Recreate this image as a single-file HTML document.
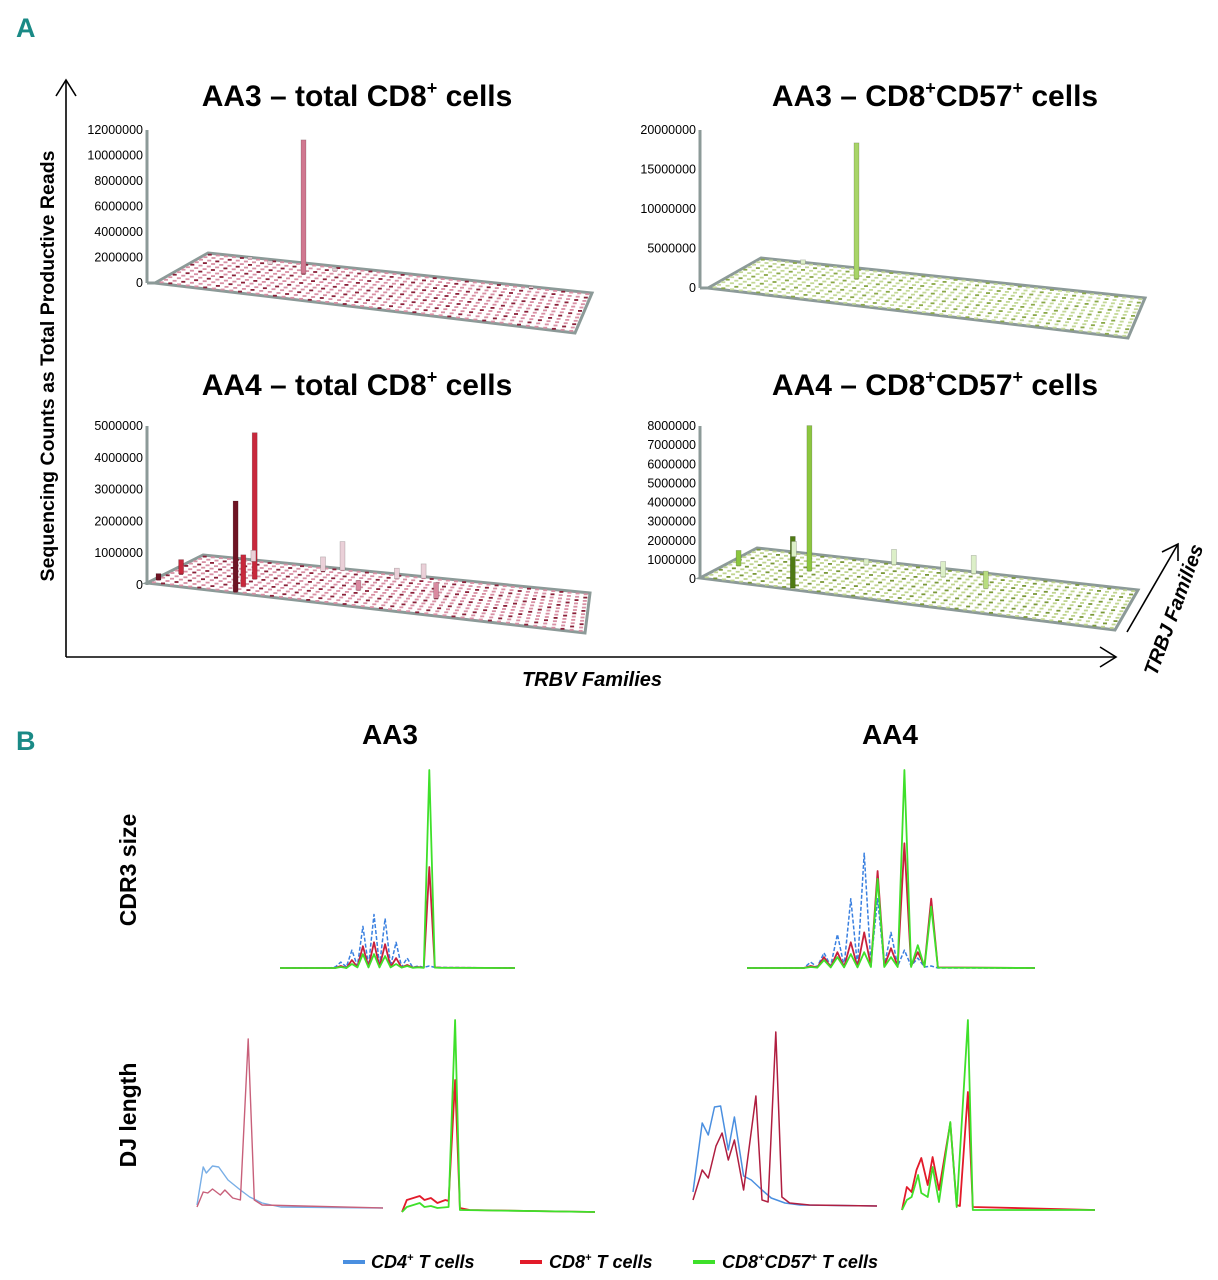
<!DOCTYPE html>
<html><head><meta charset="utf-8">
<style>
html,body{margin:0;padding:0;background:#fff;}
svg{display:block;font-family:"Liberation Sans",sans-serif;}
</style></head>
<body>
<svg id="fig" width="1218" height="1280" viewBox="0 0 1218 1280" xmlns="http://www.w3.org/2000/svg">
<text x="16" y="37" font-size="27" font-weight="bold" fill="#1a8a86" font-family="Liberation Sans Narrow, Liberation Sans, sans-serif">A</text>
<text x="16" y="750" font-size="27" font-weight="bold" fill="#1a8a86" font-family="Liberation Sans Narrow, Liberation Sans, sans-serif">B</text>

<g stroke="#000" stroke-width="1.6" fill="none">
<line x1="66" y1="80" x2="66" y2="657"/>
<polyline points="56,96 66,80 76,96"/>
<line x1="66" y1="657" x2="1116" y2="657"/>
<polyline points="1100,647 1116,657 1100,667"/>
<line x1="1127" y1="632" x2="1178" y2="544"/>
<polyline points="1162,552 1178,544 1178,561"/>
</g>
<text transform="translate(54,366) rotate(-90)" text-anchor="middle" font-size="19.5" font-weight="bold">Sequencing Counts as Total Productive Reads</text>
<text x="592" y="686" text-anchor="middle" font-size="20" font-weight="bold" font-style="italic">TRBV Families</text>
<text transform="translate(1180,612) rotate(-70)" text-anchor="middle" font-size="20" font-weight="bold" font-style="italic">TRBJ Families</text>

<text x="357" y="106" text-anchor="middle" font-size="30" font-weight="bold">AA3 – total CD8<tspan font-size="18" dy="-12">+</tspan><tspan dy="12"> cells</tspan></text>
<text x="935" y="106" text-anchor="middle" font-size="30" font-weight="bold">AA3 – CD8<tspan font-size="18" dy="-12">+</tspan><tspan dy="12">CD57</tspan><tspan font-size="18" dy="-12">+</tspan><tspan dy="12"> cells</tspan></text>
<text x="357" y="395" text-anchor="middle" font-size="30" font-weight="bold">AA4 – total CD8<tspan font-size="18" dy="-12">+</tspan><tspan dy="12"> cells</tspan></text>
<text x="935" y="395" text-anchor="middle" font-size="30" font-weight="bold">AA4 – CD8<tspan font-size="18" dy="-12">+</tspan><tspan dy="12">CD57</tspan><tspan font-size="18" dy="-12">+</tspan><tspan dy="12"> cells</tspan></text>

<g id="panels3d"></g>

<text x="390" y="744" text-anchor="middle" font-size="28" font-weight="bold">AA3</text>
<text x="890" y="744" text-anchor="middle" font-size="28" font-weight="bold">AA4</text>
<text transform="translate(136,870) rotate(-90)" text-anchor="middle" font-size="23" font-weight="bold">CDR3 size</text>
<text transform="translate(136,1115) rotate(-90)" text-anchor="middle" font-size="23" font-weight="bold">DJ length</text>

<g id="lines"></g>

<g font-size="18" font-weight="bold" font-style="italic">
<line x1="343" y1="1262" x2="365" y2="1262" stroke="#4a8fe0" stroke-width="4"/>
<text x="371" y="1268">CD4<tspan font-size="11" dy="-7">+</tspan><tspan dy="7"> T cells</tspan></text>
<line x1="520" y1="1262" x2="542" y2="1262" stroke="#e21b2a" stroke-width="4"/>
<text x="549" y="1268">CD8<tspan font-size="11" dy="-7">+</tspan><tspan dy="7"> T cells</tspan></text>
<line x1="693" y1="1262" x2="715" y2="1262" stroke="#3ee02a" stroke-width="4"/>
<text x="722" y="1268">CD8<tspan font-size="11" dy="-7">+</tspan><tspan dy="7">CD57</tspan><tspan font-size="11" dy="-7">+</tspan><tspan dy="7"> T cells</tspan></text>
</g>
</svg>
<script>
const NS='http://www.w3.org/2000/svg';
// ---------- Panel A data ----------
const ticksTL=[0,2000000,4000000,6000000,8000000,10000000,12000000];
const ticksTR=[0,5000000,10000000,15000000,20000000];
const ticksBL=[0,1000000,2000000,3000000,4000000,5000000];
const ticksBR=[0,1000000,2000000,3000000,4000000,5000000,6000000,7000000,8000000];
const barsTL_col=[13,5,8,16,40];
const barsTL_row=[3,0,1,1,0];
const barsTL_val=[10500000,150000,250000,200000,150000];
const barsTL_shade=[1,3,3,3,3];
const barsTR_col=[13,5];
const barsTR_row=[3,0];
const barsTR_val=[17200000,500000];
const barsTR_shade=[1,3];
const barsBL_col=[9,9,9,1,0,6,15,17,24,27,21,30];
const barsBL_row=[11,6,9,7,10,0,1,0,1,0,6,6];
const barsBL_val=[2850000,4600000,1000000,450000,200000,350000,450000,900000,330000,450000,300000,500000];
const barsBL_shade=[0,1,1,1,0,3,3,3,3,3,2,2];
const barsBR_col=[9,10,1,5,17,24,27,30,14];
const barsBR_row=[5,11,6,1,0,2,0,4,1];
const barsBR_val=[7600000,2700000,800000,800000,800000,800000,950000,900000,300000];
const barsBR_shade=[1,0,1,3,3,3,3,2,3];

function mk(tag,attrs,parent){const e=document.createElementNS(NS,tag);for(const k in attrs)e.setAttribute(k,attrs[k]);parent.appendChild(e);return e;}
const P=document.getElementById('panels3d');
const NC=48,NR=12;
function panel(name,axisX,axisTop,axisZero,ticks,floor,cols,rows,vals,shades,palette,dotA,dotB){
  const g=mk('g',{},P);
  
  
  const max=ticks[ticks.length-1];
  const yS=v=>axisZero-(v/max)*(axisZero-axisTop);
  const [bl,br,fr,fl]=floor;
  const fp=mk('polygon',{points:[bl,br,fr,fl].map(p=>p.join(',')).join(' '),fill:'#fff',stroke:'#8c9a98','stroke-width':3},g);
  
  
  const pt=(u,v)=>{const bx=bl[0]+(br[0]-bl[0])*u,by=bl[1]+(br[1]-bl[1])*u,fx=fl[0]+(fr[0]-fl[0])*u,fy=fl[1]+(fr[1]-fl[1])*u;return [bx+(fx-bx)*v,by+(fy-by)*v];};
  const dg=mk('g',{},g);
  
  
  for(let r=0;r<NR;r++)for(let c=0;c<NC;c++){
    const p=pt((c+0.5)/NC,(r+0.5)/NR);
    mk('rect',{x:(p[0]-2).toFixed(1),y:(p[1]-0.9).toFixed(1),width:4,height:1.8,fill:((r*7+c*3)%4===0)?dotA:dotB},dg);
  }
  const ax=mk('line',{x1:axisX,y1:axisTop,x2:axisX,y2:axisZero,stroke:'#8c9a98','stroke-width':3},g);
  
  
  mk('line',{x1:axisX,y1:axisZero,x2:fl[0],y2:fl[1],stroke:'#8c9a98','stroke-width':3},g);
  ticks.forEach(t=>{
    const tx=mk('text',{x:axisX-4,y:yS(t)+4,'text-anchor':'end','font-size':12.5},g);
    tx.textContent=String(t);
    
    
  });
  const pxPer=(axisZero-axisTop)/max;
  cols.forEach((c,i)=>{
    const p=pt((c+0.5)/NC,(rows[i]+0.5)/NR);
    const h=vals[i]*pxPer;
    const b=mk('rect',{x:(p[0]-2.5).toFixed(1),y:(p[1]-h).toFixed(1),width:5,height:h.toFixed(1),fill:palette[shades[i]],stroke:'rgba(0,0,0,0.25)','stroke-width':0.6},g);
    
    
  });
}
const reds=['#6e1424','#c8283c','#d98aa0','#ead0d8'];
const greens=['#4f7a14','#8cc63f','#b8dc80','#dcefc8'];
panel('chart-aa3-total',147,130,283,ticksTL,[[208,253],[592,293],[575,333],[155,283]],barsTL_col,barsTL_row,barsTL_val,barsTL_shade,['#6e1424','#d07890','#d98aa0','#ead0d8'],'#8a2038','#d890a4');
panel('chart-aa3-cd57',700,130,288,ticksTR,[[761,258],[1145,298],[1128,338],[708,288]],barsTR_col,barsTR_row,barsTR_val,barsTR_shade,['#4f7a14','#a8d468','#b8dc80','#dcefc8'],'#8aa848','#c4d898');
panel('chart-aa4-total',147,426,585,ticksBL,[[203,555],[590,593],[585,633],[147,583]],barsBL_col,barsBL_row,barsBL_val,barsBL_shade,reds,'#8a2038','#d890a4');
panel('chart-aa4-cd57',700,426,579,ticksBR,[[757,548],[1138,590],[1115,630],[700,578]],barsBR_col,barsBR_row,barsBR_val,barsBR_shade,greens,'#7a9838','#c0d490');

// ---------- Panel B data ----------
const cdr3AA3_x=[0,18,20,22,24,26,28,30,32,34,36,38,40,42,44,46,48,50,52,54,56,58,85];
const cdr3AA3_cd4=[0,0,0.5,3,0.5,9,1,21,1,27,1,25,1,13,0.5,5,0.3,1,0.3,1,0.3,0.3,0];
const cdr3AA3_cd8=[0,0,0,1,0,4,0.5,11,0.5,13,0.5,12,0.5,5,0.3,1.5,0.2,0.5,0.2,51,0.3,0.2,0];
const cdr3AA3_cd57=[0,0,0,0.5,0,2,0.3,7,0.3,7,0.3,6,0.3,2,0.2,1,0.1,0.3,0.1,100,0.2,0.1,0];
const cdr3AA4_x=[0,17,19,21,23,25,27,29,31,33,35,37,39,41,43,45,47,49,51,53,55,57,86];
const cdr3AA4_cd4=[0,0,3,0.5,7.7,1,17,1,35,1,58,2,35,1,18,1,9,1,5,0.5,1,0,0];
const cdr3AA4_cd8=[0,0,1,0.3,5.5,0.5,8,0.5,13,0.5,18,1,49,1,10,1,63,1,8,1,35,0.3,0];
const cdr3AA4_cd57=[0,0,0.5,0.2,4,0.3,5.5,0.3,7,0.3,8,0.5,45,0.5,5.5,0.5,100,0.5,11.5,0.5,31,0.2,0];
const dj1_x_cd4=[0,2,3,5,7,10,14,17,21,27,60];
const dj1_cd4=[3,41,35,42,41,28,18,11,5,1,0];
const dj1_x_cd8=[0,2,3.5,5,7.5,9,11.5,14,16.5,18.5,21,60];
const dj1_cd8=[1,16,15,19,13,18,10,8,169,8,3,0];
const dj2_x_cd8=[0,1.5,3.5,5.5,7,9,11,13.5,14.5,16.5,18,21,60];
const dj2_cd8=[0,12,14,16,12,14,9,12,11,132,4,2,0];
const dj2_x_cd57=[0,1.5,3.5,5.5,7,9,11,14.5,16.5,18,60];
const dj2_cd57=[0,5,7,9,5,6,4,5,192,2,0];
const dj3_x_cd4=[0,3,5,7,9,11.5,13.5,16.5,19,22.5,25.5,30,35,60];
const dj3_cd4=[14,83,71,99,100,56,89,30,26,16,8,3,1,0];
const dj3_x_cd8=[0,3,5,7.5,9.5,11.5,13.5,16.5,20.5,22.5,24.5,27,29,31.5,38,60];
const dj3_cd8=[6,36,28,60,73,46,66,16,110,6,4,174,9,3,1,0];
const dj4_x_cd8=[0,1.5,3,4.5,6,8,9.5,11.5,15,17,18,20.5,22,60];
const dj4_cd8=[0,23,18,40,52,25,53,20,87,5,4,118,3,0];
const dj4_x_cd57=[0,1.5,3,5,6,8,9.5,11.5,15,17,20.5,22,60];
const dj4_cd57=[0,10,13,35,17,13,43,8,88,3,190,0,0];

const L=document.getElementById('lines');
function chart(name,left,right,base,xmax,ymax,ypx,series){
  const g=mk('g',{},L);
  
  
  const xs=x=>left+x/xmax*(right-left), ys=v=>base-v/ymax*ypx;
  series.forEach(s=>{
    const d=s.x.map((x,i)=>(i?'L':'M')+xs(x).toFixed(1)+','+ys(s.y[i]).toFixed(1)).join(' ');
    const p=mk('path',{d:d,fill:'none',stroke:s.c,'stroke-width':s.w||1.8,'stroke-linejoin':'round'},g);
    if(s.dash)p.setAttribute('stroke-dasharray','4,2');
    
    
  });
}
chart('cdr3-aa3-chart',280,515,968,85,100,198,[
 {x:cdr3AA3_x,y:cdr3AA3_cd4,c:'#3a80e0',dash:1,w:1.5,n:'line-cd4'},
 {x:cdr3AA3_x,y:cdr3AA3_cd8,c:'#c8203c',n:'line-cd8'},
 {x:cdr3AA3_x,y:cdr3AA3_cd57,c:'#3ee02a',n:'line-cd57'}]);
chart('cdr3-aa4-chart',747,1035,968,86,100,198,[
 {x:cdr3AA4_x,y:cdr3AA4_cd4,c:'#3a80e0',dash:1,w:1.5,n:'line-cd4'},
 {x:cdr3AA4_x,y:cdr3AA4_cd8,c:'#c8203c',n:'line-cd8'},
 {x:cdr3AA4_x,y:cdr3AA4_cd57,c:'#3ee02a',n:'line-cd57'}]);
chart('dj-aa3-cd4-cd8',197,383,1208,60,1,1,[
 {x:dj1_x_cd4,y:dj1_cd4,c:'#78aee6',w:1.4,n:'line-cd4'},
 {x:dj1_x_cd8,y:dj1_cd8,c:'#c8607a',w:1.4,n:'line-cd8'}]);
chart('dj-aa3-cd8-cd57',402,595,1212,60,1,1,[
 {x:dj2_x_cd8,y:dj2_cd8,c:'#e21b2a',n:'line-cd8'},
 {x:dj2_x_cd57,y:dj2_cd57,c:'#3ee02a',n:'line-cd57'}]);
chart('dj-aa4-cd4-cd8',693,877,1206,60,1,1,[
 {x:dj3_x_cd4,y:dj3_cd4,c:'#4a8fe0',w:1.5,n:'line-cd4'},
 {x:dj3_x_cd8,y:dj3_cd8,c:'#b01e40',w:1.5,n:'line-cd8'}]);
chart('dj-aa4-cd8-cd57',902,1095,1210,60,1,1,[
 {x:dj4_x_cd8,y:dj4_cd8,c:'#e21b2a',n:'line-cd8'},
 {x:dj4_x_cd57,y:dj4_cd57,c:'#3ee02a',n:'line-cd57'}]);
</script>
</body></html>
